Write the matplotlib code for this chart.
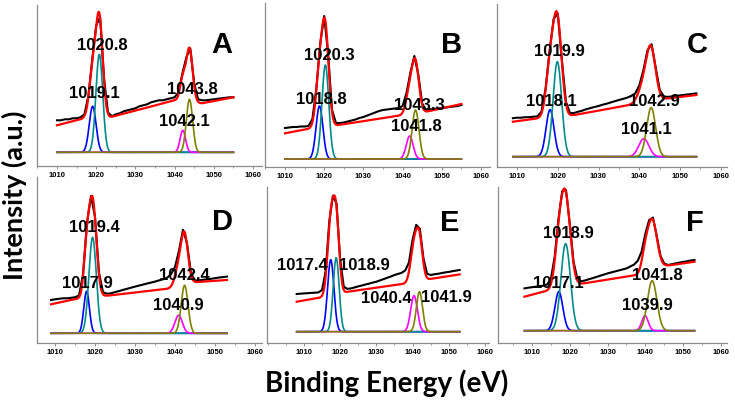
import numpy as np
import matplotlib.pyplot as plt
from matplotlib.ticker import MultipleLocator

W, H = 735, 401

# measured spectra, binding energy (eV) vs intensity (arb. units, 0 = fit baseline)
A_ev = list(range(1010, 1056))
A_counts = [32, 32, 33, 33, 34, 34, 35, 38, 56, 93,
            127, 135, 74, 40, 36, 38, 39, 41, 42, 43,
            44, 46, 47, 48, 50, 51, 52, 52, 53, 54,
            55, 60, 79, 95, 104, 69, 53, 52, 52, 52.5,
            53, 53.5, 54, 54.5, 55, 55]
B_ev = list(range(1010, 1056))
B_counts = [31, 31.5, 32, 32, 32.5, 32.5, 33, 40, 71, 116,
            143, 105, 49, 36, 36, 36.5, 37.5, 38.5, 39.5, 41,
            42, 43.5, 45, 46.5, 48, 49, 49.5, 50, 50.5, 51,
            53, 66, 86.5, 103, 84.5, 55.5, 49, 49.7, 50, 50.5,
            51, 51.5, 52, 52.5, 53, 54]
C_ev = list(range(1009, 1055))
C_counts = [38.5, 39, 39, 39.5, 39.5, 40, 40.3, 45, 67.7, 106,
            138, 143, 97, 55, 43.5, 43.7, 45, 46, 47.5, 48.6,
            49.7, 50.7, 52, 53, 54.3, 55.5, 56.7, 57.8, 59, 60.8,
            63.3, 71.3, 86.6, 106.3, 112.5, 89.5, 66.8, 60.2, 59.8, 60.3,
            60.8, 61.3, 61.8, 62.3, 62.8, 63.3]
D_ev = list(range(1009, 1054))
D_counts = [33.3, 34, 34.5, 35, 35, 35.5, 36, 37.8, 59, 110.3,
            137.4, 116.5, 60.6, 41.1, 39.6, 40, 41.2, 42.2, 43.4, 44.5,
            45.6, 46.7, 47.7, 48.7, 49.8, 50.7, 51.7, 52.9, 54, 55.5,
            59, 66.3, 82.6, 103.5, 90.2, 60, 52.7, 52.9, 53.5, 53.9,
            54.5, 55.1, 55.8, 56.2, 56.7]
E_ev = list(range(1008, 1054))
E_counts = [37.7, 38, 38.3, 38.5, 38.8, 39, 39.3, 41.7, 60.6, 110.3,
            136, 128.2, 72.2, 44.9, 42.8, 43.3, 44.3, 45.3, 46.2, 47.2,
            48.1, 49.1, 50, 51.3, 52.6, 53.9, 55.2, 56.7, 57.8, 58.9,
            61.4, 69.3, 92.2, 106.8, 103, 73.4, 58, 56.7, 57.4, 57.9,
            58.6, 59.3, 59.8, 60.5, 61.1, 61.7]
F_ev = list(range(1008, 1054))
F_counts = [42.3, 43, 43.5, 44, 44.5, 45, 46.2, 51.8, 74, 111.6,
            139.6, 140.7, 106.8, 68.7, 52.3, 49.4, 50.2, 51.4, 52.5, 53.7,
            54.9, 56.1, 57.3, 58.3, 59.3, 60.3, 61.3, 62.3, 64.2, 66.1,
            70, 79, 97.1, 110.7, 113.1, 94.9, 74.8, 67.1, 65.7, 66.5,
            67.3, 68.1, 68.8, 69.4, 70.2, 70.7]

# fitted components: 2p3/2 pair then 2p1/2 pair (centre eV, height, sigma eV)
A_centers = [1019.1, 1020.8, 1042.1, 1043.8]
A_heights = [46, 98, 22, 53]
A_widths = [0.87, 0.87, 0.7, 0.8]
B_centers = [1018.8, 1020.3, 1041.8, 1043.3]
B_heights = [53, 94, 23, 49]
B_widths = [0.87, 0.87, 0.87, 0.87]
C_centers = [1018.1, 1019.9, 1041.1, 1042.9]
C_heights = [47, 95, 18, 49]
C_widths = [0.98, 1.05, 1.25, 1.1]
D_centers = [1017.9, 1019.4, 1040.9, 1042.4]
D_heights = [42, 96, 18, 48]
D_widths = [0.7, 0.93, 0.93, 0.85]
E_centers = [1017.4, 1018.9, 1040.4, 1041.9]
E_heights = [72, 74, 36, 40]
E_widths = [0.88, 0.82, 0.93, 0.85]
F_centers = [1017.1, 1018.9, 1039.9, 1041.8]
F_heights = [39, 87, 15, 50]
F_widths = [1.05, 1.25, 0.85, 1.25]

# background of the fit envelope (nodes)
A_bg_ev = [1010, 1017, 1023.5, 1040, 1047, 1055]
A_bg = [27, 34, 35, 52, 49, 55]
B_bg_ev = [1010, 1016.8, 1023.6, 1040.2, 1046.1, 1055]
B_bg = [25.7, 30.7, 34, 44, 47.3, 55]
C_bg_ev = [1009, 1015.2, 1022.7, 1037.6, 1045.9, 1054]
C_bg = [35, 38.3, 40.7, 51.7, 57.7, 61.7]
D_bg_ev = [1009, 1016.1, 1023.3, 1039.2, 1044.6, 1053]
D_bg = [29, 35, 37.7, 45, 51, 53.3]
E_bg_ev = [1008, 1014.4, 1022.2, 1038.4, 1044.8, 1053]
E_bg = [30, 34, 40, 48.3, 52.7, 57.3]
F_bg_ev = [1008, 1014.8, 1022.7, 1037.7, 1045.2, 1053]
F_bg = [34, 40.7, 46.7, 55.7, 64.7, 69]

panel_names = ["A", "B", "C", "D", "E", "F"]
tick_labels = ["1010", "1020", "1030", "1040", "1050", "1060"]

# layout in pixels: axes (left, right, top, bottom), xlim, ylim
rects = [(37, 262, 5, 166), (265, 490, 3, 167), (497, 727, 4, 167),
         (37, 262, 177, 343), (267, 489, 187, 343), (498, 727, 187, 343)]
xlims = [(1004.9, 1062.3), (1004.9, 1062.3), (1005.1, 1061.5),
         (1005.5, 1061.75), (999.8, 1061.1), (1001, 1061.6)]
ylims = [(-13.7, 147.3), (-8, 156), (-10.3, 152.7),
         (-9.7, 156.3), (-11.3, 144.7), (-12.3, 143.7)]
letter_xy = [(222, 45), (452, 45), (697, 45), (223, 222), (450, 223), (695, 223)]
label_xy = [[(94, 94), (102, 45), (184, 121), (192, 89)],
            [(321, 99), (329, 55), (416, 127), (419, 106)],
            [(551, 101), (559, 52), (646, 130), (654, 101)],
            [(87, 283), (94.5, 228), (178, 305), (184, 275)],
            [(302, 265), (364, 265), (386, 298.5), (446.5, 297)],
            [(558, 283), (568, 233), (647, 306), (657, 275)]]

comp_colors = ["#0000ff", "#008b8b", "#ff00ff", "#808000"]
spine_col = "#8c8c8c"

data = [
    (A_ev, A_counts, A_centers, A_heights, A_widths, A_bg_ev, A_bg),
    (B_ev, B_counts, B_centers, B_heights, B_widths, B_bg_ev, B_bg),
    (C_ev, C_counts, C_centers, C_heights, C_widths, C_bg_ev, C_bg),
    (D_ev, D_counts, D_centers, D_heights, D_widths, D_bg_ev, D_bg),
    (E_ev, E_counts, E_centers, E_heights, E_widths, E_bg_ev, E_bg),
    (F_ev, F_counts, F_centers, F_heights, F_widths, F_bg_ev, F_bg),
]


def gauss(x, c, h, s):
    return h * np.exp(-(x - c) ** 2 / (2 * s ** 2))


fig = plt.figure(figsize=(W / 100, H / 100), dpi=100)

for i, (ev, counts, cen, hts, wid, bg_ev, bg) in enumerate(data):
    l, r, t, b = rects[i]
    ax = fig.add_axes([l / W, 1 - b / H, (r - l) / W, (b - t) / H])

    x = np.linspace(ev[0], ev[-1], 600)
    comps = [gauss(x, c, h, s) for c, h, s in zip(cen, hts, wid)]
    envelope = np.interp(x, bg_ev, bg) + sum(comps)

    ax.plot(ev, counts, color="black", lw=1.5)
    ax.plot(x, envelope, color="red", lw=1.6)
    for comp, col in zip(comps, comp_colors):
        ax.plot(x, comp, color=col, lw=1.2)

    ax.set_xlim(*xlims[i])
    ax.set_ylim(*ylims[i])
    for side in ["top", "right"]:
        ax.spines[side].set_visible(False)
    for side in ["left", "bottom"]:
        ax.spines[side].set_color(spine_col)
        ax.spines[side].set_linewidth(0.9)
    ax.set_yticks([])
    ax.set_xticks([int(v) for v in tick_labels])
    ax.set_xticklabels(tick_labels, fontsize=5.5, fontweight="bold",
                       family="Liberation Sans")
    ax.xaxis.set_minor_locator(MultipleLocator(5))
    ax.tick_params(axis="x", which="major", length=2.5, width=0.7,
                   color=spine_col, pad=1.5)
    ax.tick_params(axis="x", which="minor", length=1.5, width=0.6,
                   color=spine_col)

    lx, ly = letter_xy[i]
    fig.text(lx / W, 1 - ly / H, panel_names[i], fontsize=21,
             fontweight="bold", family="Liberation Sans",
             ha="center", va="center")
    for c, (tx, ty) in zip(cen, label_xy[i]):
        fig.text(tx / W, 1 - ty / H, "%.1f" % c, fontsize=12,
                 fontweight="bold", family="Liberation Sans",
                 ha="center", va="center")

fig.text(14 / W, 1 - 195 / H, "Intensity (a.u.)", rotation=90, fontsize=19.5,
         fontweight="bold", family="Lato", ha="center", va="center")
fig.text(387 / W, 1 - 383 / H, "Binding Energy (eV)", fontsize=20,
         fontweight="bold", family="Lato", ha="center", va="center")

fig.savefig("out.png", dpi=100)
